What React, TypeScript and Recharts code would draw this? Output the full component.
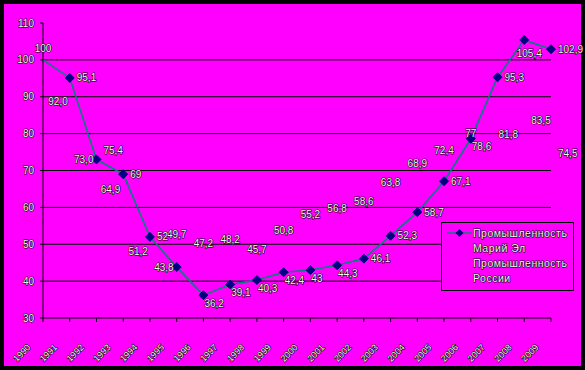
import { CartesianGrid, LabelList, Legend, Line, LineChart, XAxis, YAxis } from 'recharts';

const years = [
  '1990', '1991', '1992', '1993', '1994', '1995', '1996', '1997', '1998', '1999',
  '2000', '2001', '2002', '2003', '2004', '2005', '2006', '2007', '2008', '2009',
];
// values as printed on the chart (comma decimals)
const mariEl = [
  '100', '95,1', '73,0', '69', '52', '43,8', '36,2', '39,1', '40,3', '42,4',
  '43', '44,3', '46,1', '52,3', '58,7', '67,1', '78,6', '95,3', '105,4', '102,9',
];
const russia = [
  '100', '92,0', '75,4', '64,9', '51,2', '49,7', '47,2', '48,2', '45,7', '50,8',
  '55,2', '56,8', '58,6', '63,8', '68,9', '72,4', '77', '81,8', '83,5', '74,5',
];
const yTicks = [30, 40, 50, 60, 70, 80, 90, 100, 110];
const gridValues = [40, 50, 60, 70, 80, 90, 100];

const MAGENTA = '#ff00ff';
const TEAL = '#008080';
const NAVY = '#000080';
const FONT = '"Liberation Sans", Arial, sans-serif';

const num = (s: string) => parseFloat(s.replace(',', '.'));

const data = years.map((year, i) => ({
  year,
  mariEl: num(mariEl[i]),
  russia: num(russia[i]),
}));

// where each data label sits relative to its point
type Place = 'r' | 'l' | 't' | 'b' | 'br' | 'bl' | '';
const mariElPlace: Place[] = [
  '', 'r', 'l', 'r', 'r', 'l', 'br', 'br', 'br', 'br',
  'br', 'br', 'r', 'r', 'r', 'r', 'br', 'r', 'b', 'r',
];
const russiaPlace: Place[] = [
  't', 'bl', 'r', 'l', 'bl', 't', 't', 't', 't', 't',
  't', 't', 't', 't', 't', 't', 't', 'br', 'r', 'r',
];

const textStyle = {
  fill: '#f6f6f6',
  stroke: '#000',
  strokeWidth: 1.1,
  paintOrder: 'stroke' as const,
  fontFamily: FONT,
  fontSize: 10,
};

function placed(x: number, y: number, text: string, p: Place) {
  if (!p) return null;
  let dx = 0;
  let dy = 0;
  let anchor: 'start' | 'end' | 'middle' = 'start';
  if (p === 'r') { dx = 7; dy = 0; }
  if (p === 'l') { dx = -3; dy = 0; anchor = 'end'; }
  if (p === 't') { dx = 0; dy = -11; anchor = 'middle'; }
  if (p === 'b') { dx = 5; dy = 14; anchor = 'middle'; }
  if (p === 'br') { dx = 1; dy = 8; }
  if (p === 'bl') { dx = -2; dy = 12; anchor = 'end'; }
  return (
    <text x={x + dx} y={y + dy + 3.5} textAnchor={anchor} style={textStyle}>
      {text}
    </text>
  );
}

const makeLabel = (texts: string[], places: Place[]) => (props: any) => {
  const { x, y, index } = props;
  return placed(Number(x), Number(y), texts[index], places[index]);
};

const Diamond = (props: any) => {
  const { cx, cy, index } = props;
  if (index === 0 || cx == null) return <g key={`d${index}`} />;
  return (
    <polygon
      key={`d${index}`}
      points={`${cx},${cy - 4.5} ${cx + 4.5},${cy} ${cx},${cy + 4.5} ${cx - 4.5},${cy}`}
      fill={NAVY}
      stroke={NAVY}
    />
  );
};

const YearTick = (props: any) => {
  const { x, y, payload } = props;
  const ax = x - 12;
  const ay = y + 24;
  return (
    <text
      x={ax}
      y={ay}
      textAnchor="end"
      transform={`rotate(-45, ${ax}, ${ay})`}
      style={{ ...textStyle, fontSize: 9 }}
    >
      {payload.value}
    </text>
  );
};

const ValueTick = (props: any) => {
  const { x, y, payload } = props;
  return (
    <text x={x} y={y + 3.5} textAnchor="end" style={textStyle}>
      {payload.value}
    </text>
  );
};

const legendText = { ...textStyle, fontSize: 10.5, letterSpacing: 0.5 };

const LegendBox = () => (
  <div
    style={{
      width: 131,
      height: 67,
      border: '1px solid #000',
      background: MAGENTA,
    }}
  >
    <svg width={131} height={67}>
      <line x1={5} x2={30} y1={10} y2={10} stroke={TEAL} strokeWidth={1.5} />
      <polygon points="17.5,6 21.5,10 17.5,14 13.5,10" fill={NAVY} />
      <text x={31} y={14} style={legendText}>Промышленность</text>
      <text x={31} y={29} style={legendText}>Марий Эл</text>
      <text x={31} y={44} style={legendText}>Промышленность</text>
      <text x={31} y={59} style={legendText}>России</text>
    </svg>
  </div>
);

export default function App() {
  return (
    <div
      style={{
        position: 'absolute',
        left: 0,
        top: 0,
        width: 585,
        height: 370,
        background: MAGENTA,
        boxShadow: 'inset 0 0 0 4px #000',
      }}
    >
      <LineChart
        width={585}
        height={370}
        data={data}
        margin={{ top: 23, right: 34, bottom: 0, left: 0 }}
      >
        <CartesianGrid
          vertical={false}
          stroke="#000"
          strokeWidth={1}
          horizontalValues={gridValues}
        />
        <XAxis
          dataKey="year"
          interval={0}
          height={52}
          tickSize={4}
          axisLine={{ stroke: '#000' }}
          tickLine={{ stroke: '#000' }}
          tick={<YearTick />}
        />
        <YAxis
          domain={[30, 110]}
          ticks={yTicks}
          width={43}
          tickSize={3}
          tickMargin={6}
          axisLine={{ stroke: '#000' }}
          tickLine={{ stroke: '#000' }}
          tick={<ValueTick />}
        />
        <Legend
          layout="vertical"
          align="center"
          verticalAlign="middle"
          wrapperStyle={{ left: 441, top: 222, width: 133, height: 69 }}
          content={<LegendBox />}
        />
        <Line
          dataKey="russia"
          name="Промышленность России"
          stroke="none"
          dot={false}
          activeDot={false}
          isAnimationActive={false}
        >
          <LabelList dataKey="russia" content={makeLabel(russia, russiaPlace)} />
        </Line>
        <Line
          dataKey="mariEl"
          name="Промышленность Марий Эл"
          stroke={TEAL}
          strokeWidth={1.6}
          dot={Diamond}
          activeDot={false}
          isAnimationActive={false}
        >
          <LabelList dataKey="mariEl" content={makeLabel(mariEl, mariElPlace)} />
        </Line>
      </LineChart>
    </div>
  );
}
